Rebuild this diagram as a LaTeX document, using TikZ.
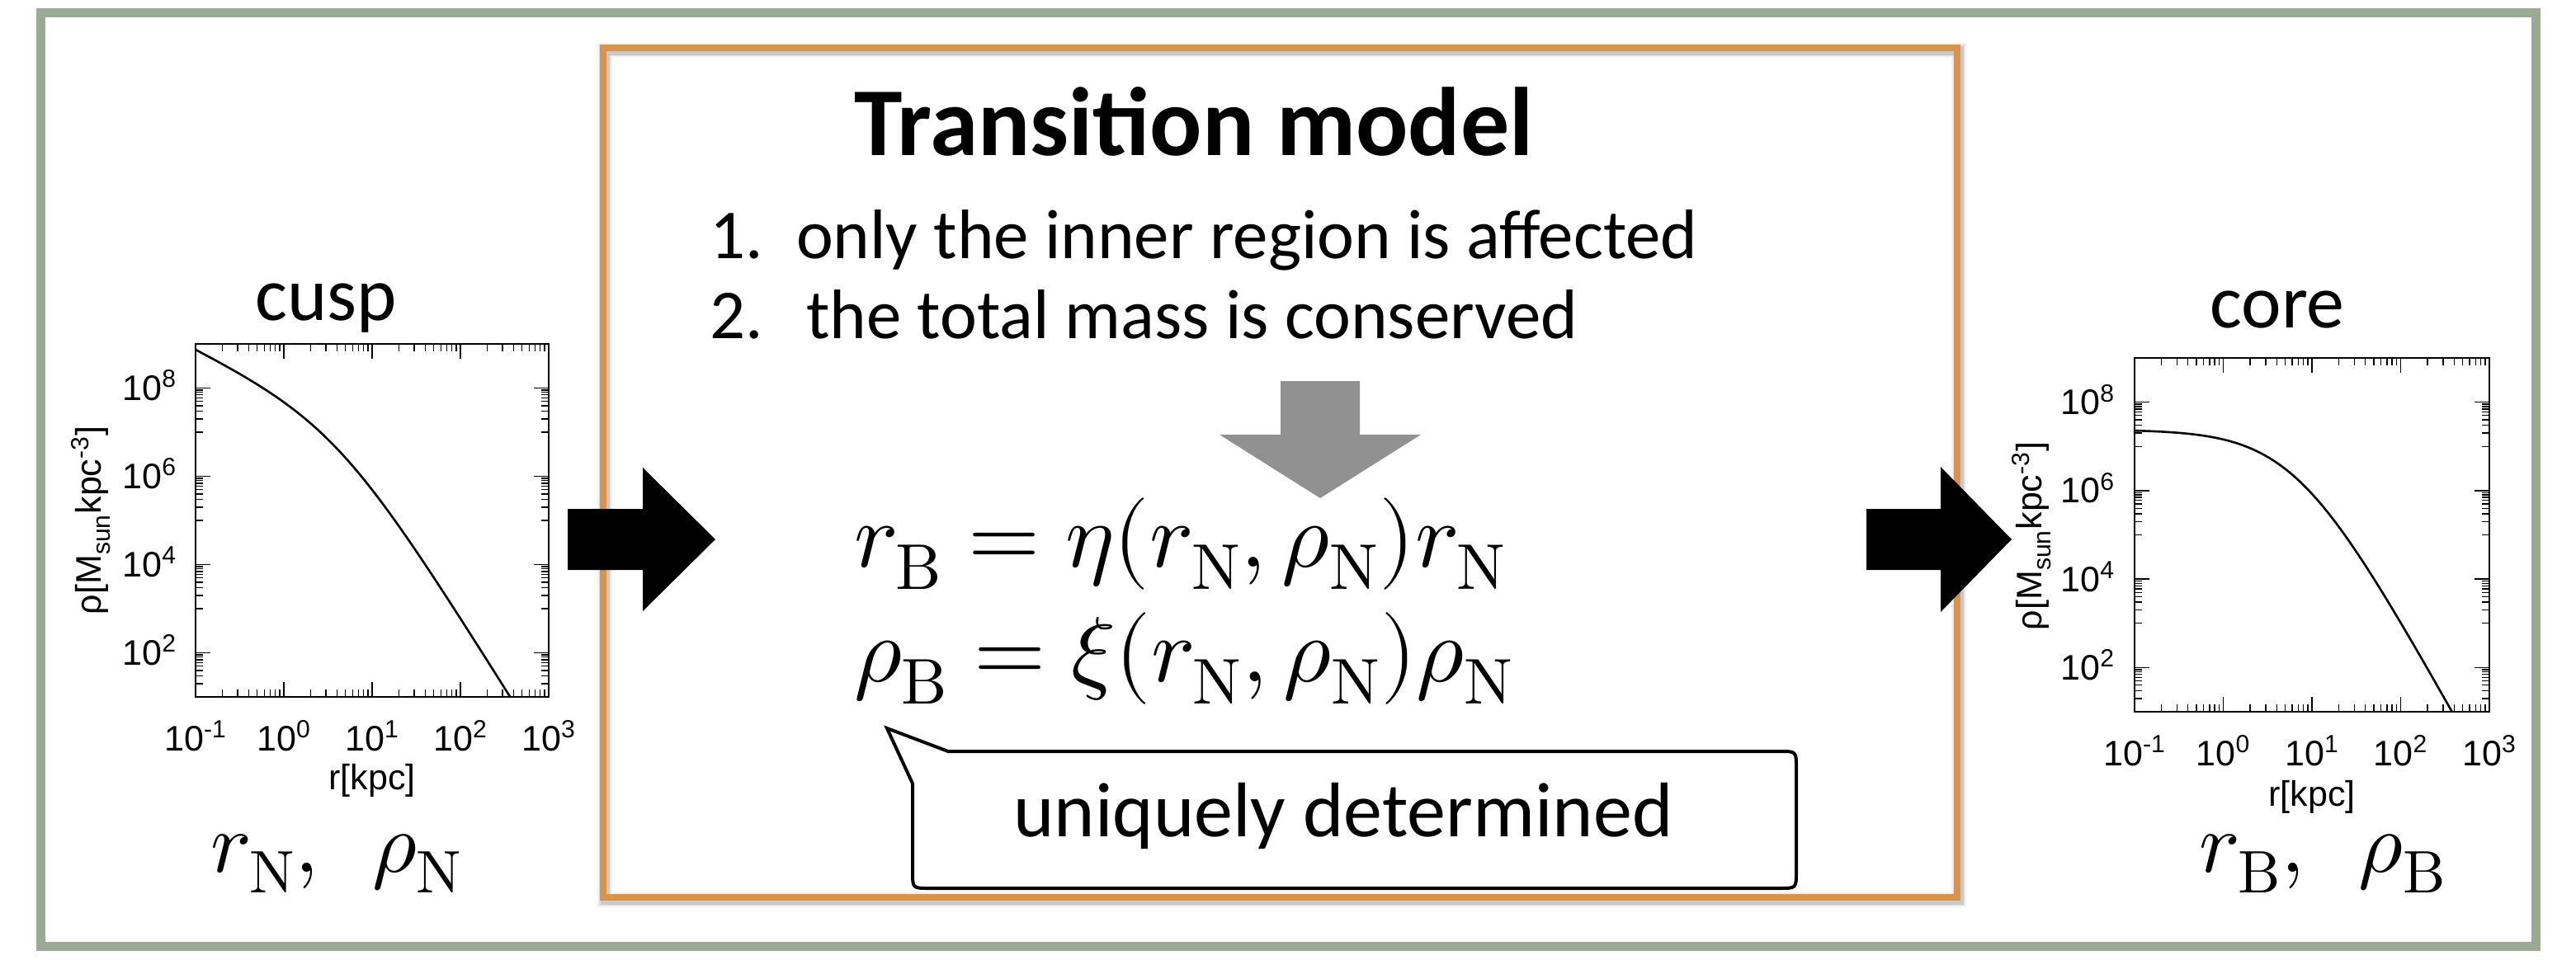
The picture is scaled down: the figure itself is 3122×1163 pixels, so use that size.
\documentclass[tikz,border=0pt]{standalone}
\usepackage{fontspec}
\usepackage{unicode-math}
\setmainfont{Carlito}
\newfontfamily\plotfont{Liberation Sans}
\definecolor{framegreen}{RGB}{155,170,148}
\definecolor{boxorange}{RGB}{217,148,74}
\definecolor{arrowgray}{RGB}{145,145,145}
\newcommand\logplot[4]{%
 \draw[plotframe] (#1,#2) rectangle ({#1+4*#3},{#2-8*#4});
 \foreach \d in {0,1,2,3}{
   \foreach \m in {2,...,9}{
     \pgfmathsetmacro\xx{#1+(\d+log10(\m))*#3}
     \draw[tick] (\xx,#2) -- ++(0,-9) (\xx,{#2-8*#4}) -- ++(0,9);
   }}
 \foreach \d in {1,2,3}{
   \pgfmathsetmacro\xx{#1+\d*#3}
   \draw[tick] (\xx,#2) -- ++(0,-18) (\xx,{#2-8*#4}) -- ++(0,18);
 }
 \foreach \v in {0,2,4,6}{
   \foreach \m in {1,...,9}{
     \pgfmathsetmacro\yy{#2-(\v+log10(\m))*#4}
     \draw[tick] (#1,\yy) -- ++(9,0) ({#1+4*#3},\yy) -- ++(-9,0);
   }}
 \foreach \v in {1,3,5,7}{
   \pgfmathsetmacro\yy{#2-\v*#4}
   \draw[tick] (#1,\yy) -- ++(18,0) ({#1+4*#3},\yy) -- ++(-18,0);
 }
}
\begin{document}
\begin{tikzpicture}[x=0.5pt,y=-0.5pt,
  txt/.style={inner sep=0pt, outer sep=0pt},
  plottxt/.style={txt, font=\plotfont\fontsize{21.5}{26}\selectfont},
  plotframe/.style={line width=1pt},
  tick/.style={line width=0.7pt},
  curve/.style={line width=1.3pt, line join=round},
  itemfont/.style={txt, font=\fontsize{42.5}{50}\selectfont},
  eqfont/.style={txt, font=\fontsize{56}{66}\selectfont},
  parfont/.style={txt, font=\fontsize{52}{60}\selectfont},
  labfont/.style={txt, font=\fontsize{46}{55}\selectfont}]
\useasboundingbox (0,0) rectangle (3122,1163);
\fill[white] (0,0) rectangle (3122,1163);
% outer green frame
\draw[draw=framegreen, line width=5.5pt] (49.5,15.5) rectangle (3073.5,1147.5);
% orange model box with soft shadow
\foreach \w/\o in {9/0.05,7/0.07,5.5/0.1}{
  \draw[black, opacity=\o, line width=\w pt] (733,61) rectangle (2374,1091);
}
\node[draw=boxorange, line width=4pt, minimum width=820.5pt, minimum height=515pt, inner sep=0pt] (modelbox) at (1551.5,573) {};
% title and list
\node[txt, anchor=base, font=\fontsize{59}{70}\selectfont\bfseries] (title) at (1447,188) {Transition model};
\node[itemfont, anchor=base west] (n1) at (860,313) {1.};
\node[itemfont, anchor=base west] (i1) at (965,313) {only the inner region is affected};
\node[itemfont, anchor=base west] (n2) at (860,410) {2.};
\node[itemfont, anchor=base west] (i2) at (977,410) {the total mass is conserved};
% gray down arrow
\fill[arrowgray] (1552,462) -- (1648,462) -- (1648,527) -- (1722,527) -- (1600,604) -- (1478,527) -- (1552,527) -- cycle;
% equations
\node[eqfont, anchor=base west] (eq1) at (1035,687) {$r_{\symup{B}} = \eta(r_{\symup{N}},\rho_{\symup{N}})r_{\symup{N}}$};
\node[eqfont, anchor=base west] (eq2) at (1035,826) {$\rho_{\symup{B}} = \xi(r_{\symup{N}},\rho_{\symup{N}})\rho_{\symup{N}}$};
% callout
\draw[line width=2pt, fill=white, line join=miter] (1149,911) -- (1075,883) -- (1106,950) -- (1106,1057) .. controls (1106,1077) .. (1126,1077) -- (2157,1077) .. controls (2177,1077) .. (2177,1057) -- (2177,931) .. controls (2177,911) .. (2157,911) -- cycle;
\node[txt, anchor=base, font=\fontsize{47}{56}\selectfont] (callouttxt) at (1628,1014) {uniquely determined};
% left plot (cusp)
\node[labfont, anchor=base] (cusp) at (395,388) {cusp};
\logplot{237}{845}{107}{53.5}
\draw[curve] plot[domain=-1:2.563, samples=90, smooth] ({237+(\x+1)*107},{845-(6.293-(\x-0.6)-2.2*log10(1+exp(2.302585*(\x-0.6))))*53.5});
\foreach \k/\e in {0/-1,1/0,2/1,3/2,4/3}{
  \node[plottxt, anchor=base] (lx\k) at ({237+\k*107},910) {10\textsuperscript{\e}};
}
\foreach \v/\e in {1/2,3/4,5/6,7/8}{
  \node[plottxt, anchor=base east] (ly\e) at (214,{845-\v*53.5+15}) {10\textsuperscript{\e}};
}
\node[plottxt, anchor=base] (lxlab) at (451,957) {r[kpc]};
\node[plottxt, rotate=90] (lylab) at (110,631) {ρ[M\textsubscript{sun}kpc\textsuperscript{-3}]};
\node[parfont, anchor=base] (lparams) at (408,1057) {$r_{\symup{N}},\ \ \rho_{\symup{N}}$};
% right plot (core)
\node[labfont, anchor=base] (core) at (2760,397) {core};
\logplot{2587}{863}{107.5}{53.625}
\draw[curve] plot[domain=-1:2.579, samples=90, smooth] ({2587+(\x+1)*107.5},{863-(6.38-3.6*log10(1+exp(2.302585*(\x-0.814))))*53.625});
\foreach \k/\e in {0/-1,1/0,2/1,3/2,4/3}{
  \node[plottxt, anchor=base] (rx\k) at ({2587+\k*107.5},928) {10\textsuperscript{\e}};
}
\foreach \v/\e in {1/2,3/4,5/6,7/8}{
  \node[plottxt, anchor=base east] (ry\e) at (2563,{863-\v*53.625+15}) {10\textsuperscript{\e}};
}
\node[plottxt, anchor=base] (rxlab) at (2802,977) {r[kpc]};
\node[plottxt, rotate=90] (rylab) at (2462,650) {ρ[M\textsubscript{sun}kpc\textsuperscript{-3}]};
\node[parfont, anchor=base] (rparams) at (2815,1057) {$r_{\symup{B}},\ \ \rho_{\symup{B}}$};
% black block arrows
\fill[black] (688,617) -- (779,617) -- (779,567) -- (867,654) -- (779,741) -- (779,691) -- (688,691) -- cycle;
\fill[black] (2262,617) -- (2352,617) -- (2352,566) -- (2438,654) -- (2352,742) -- (2352,691) -- (2262,691) -- cycle;
\end{tikzpicture}
\end{document}
